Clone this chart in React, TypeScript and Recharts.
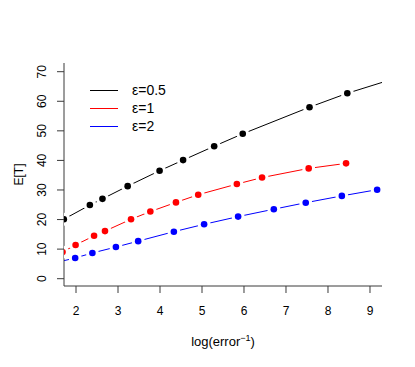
import { Label, Line, LineChart, XAxis, YAxis } from "recharts";

const xTicks = [2, 3, 4, 5, 6, 7, 8, 9];
const yTicks = [0, 10, 20, 30, 40, 50, 60, 70];

const blackX = [1.71, 2.33, 2.63, 3.23, 3.99, 4.55, 5.29, 5.97, 7.56, 8.46, 9.7];
const blackY = [20.1, 24.9, 27.0, 31.3, 36.5, 40.1, 44.8, 49.0, 58.0, 62.7, 68.2];

const redX = [1.68, 1.99, 2.43, 2.69, 3.31, 3.77, 4.38, 4.91, 5.83, 6.43, 7.54, 8.43];
const redY = [9.0, 11.4, 14.5, 16.1, 20.1, 22.7, 25.8, 28.4, 32.0, 34.2, 37.3, 39.0];

const blueX = [1.39, 1.98, 2.39, 2.95, 3.48, 4.33, 5.05, 5.86, 6.71, 7.47, 8.33, 9.17];
const blueY = [5.0, 7.0, 8.7, 10.7, 12.7, 15.9, 18.4, 21.0, 23.5, 25.7, 28.0, 30.1];

const seriesNames = ["ε=0.5", "ε=1", "ε=2"];
const seriesColors = ["#000000", "#ff0000", "#0000ff"];

const toRows = (xs: number[], ys: number[]) => xs.map((x, i) => ({ x, y: ys[i] }));

const series = [
  { name: seriesNames[0], color: seriesColors[0], data: toRows(blackX, blackY) },
  { name: seriesNames[1], color: seriesColors[1], data: toRows(redX, redY) },
  { name: seriesNames[2], color: seriesColors[2], data: toRows(blueX, blueY) },
];

const FONT = "'Liberation Sans', Arial, Helvetica, sans-serif";
const BOX = "#3a3a3a";

const XTick = ({ x, y, payload }: any) => (
  <text x={x} y={y + 22} textAnchor="middle" fontSize={12} fontFamily={FONT} fill="#000">
    {payload.value}
  </text>
);

const YTick = ({ x, y, payload }: any) => (
  <text
    x={x - 10.7}
    y={y}
    transform={`rotate(-90, ${x - 10.7}, ${y})`}
    textAnchor="middle"
    fontSize={12}
    fontFamily={FONT}
    fill="#000"
  >
    {payload.value}
  </text>
);

// type="b" look: white halo around each point breaks the line
const makeDot = (color: string) => (p: any) => (
  <g key={`d-${color}-${p.index}`}>
    <circle cx={p.cx} cy={p.cy} r={6.5} fill="#fff" />
    <circle cx={p.cx} cy={p.cy} r={3.3} fill={color} />
  </g>
);

export default function App() {
  return (
    <div style={{ position: "absolute", left: 0, top: 0, width: 415, height: 367, background: "#fff" }}>
      <LineChart width={415} height={367} margin={{ top: 63, right: 33, bottom: 0, left: 0 }}>
        <XAxis
          xAxisId="b"
          type="number"
          dataKey="x"
          domain={[1.714, 9.286]}
          allowDataOverflow
          ticks={xTicks}
          interval={0}
          height={81}
          tickSize={7}
          tickMargin={0}
          tick={<XTick />}
          stroke={BOX}
        >
          <Label
            content={({ viewBox }: any) => (
              <text
                x={viewBox.x + viewBox.width / 2}
                y={346}
                textAnchor="middle"
                fontSize={13}
                fontFamily={FONT}
                fill="#000"
              >
                log(error
                <tspan dy={-5} fontSize={9}>−1</tspan>
                <tspan dy={5}>)</tspan>
              </text>
            )}
          />
        </XAxis>
        <XAxis
          xAxisId="t"
          orientation="top"
          type="number"
          dataKey="x"
          domain={[1.714, 9.286]}
          allowDataOverflow
          height={0}
          tick={false}
          tickLine={false}
          stroke={BOX}
        />
        <YAxis
          yAxisId="l"
          type="number"
          domain={[-2.47, 72.94]}
          allowDataOverflow
          ticks={yTicks}
          interval={0}
          width={64}
          tickSize={7}
          tickMargin={0}
          tick={<YTick />}
          stroke={BOX}
        >
          <Label
            content={({ viewBox }: any) => {
              const cy = viewBox.y + viewBox.height / 2;
              return (
                <text
                  x={23}
                  y={cy}
                  transform={`rotate(-90, 23, ${cy})`}
                  textAnchor="middle"
                  fontSize={12}
                  fontFamily={FONT}
                  fill="#000"
                >
                  E[T]
                </text>
              );
            }}
          />
        </YAxis>
        <YAxis
          yAxisId="r"
          orientation="right"
          type="number"
          domain={[-2.47, 72.94]}
          allowDataOverflow
          width={0}
          tick={false}
          tickLine={false}
          stroke={BOX}
        />
        {series.map((s) => (
          <Line
            key={s.name}
            xAxisId="b"
            yAxisId="l"
            data={s.data}
            dataKey="y"
            type="linear"
            stroke={s.color}
            strokeWidth={1}
            dot={makeDot(s.color)}
            activeDot={false}
            isAnimationActive={false}
          />
        ))}
      </LineChart>
      <div style={{ position: "absolute", left: 90, top: 81, fontFamily: FONT, fontSize: 14, color: "#000" }}>
        {series.map((s) => (
          <div key={s.name} style={{ display: "flex", alignItems: "center", height: 18 }}>
            <div style={{ width: 28, height: 1, background: s.color, marginRight: 14 }} />
            <span>{s.name}</span>
          </div>
        ))}
      </div>
    </div>
  );
}
